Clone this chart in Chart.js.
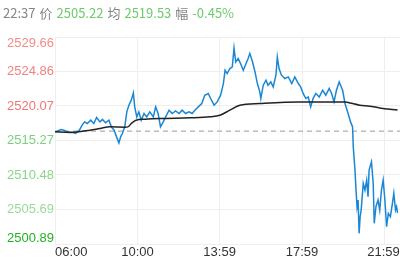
<!DOCTYPE html>
<html>
<head>
<meta charset="utf-8">
<script src="https://cdn.jsdelivr.net/npm/chart.js@4"></script>
<style>
  body { margin: 0; background: #fff; }
  #wrap { position: relative; width: 400px; height: 260px; }
  #head {
    position: absolute; left: 3px; top: 3px;
    font: 13px "Noto Sans CJK SC", "Noto Sans", sans-serif;
    color: #858585; white-space: nowrap;
  }
  #head .g { color: #6ccb6c; }
  #head span { margin-right: 4px; }
</style>
</head>
<body>
<div id="wrap">
  <div id="head"><span>22:37</span><span>价</span><span class="g">2505.22</span><span>均</span><span class="g">2519.53</span><span>幅</span><span class="g">-0.45%</span></div>
  <canvas id="c" width="400" height="260"></canvas>
</div>
<script>
// minutes since 06:00
const priceTimes = [2,17,26,36,50,60,71,79,86,94,104,113,121,131,138,147,157,164,172,179,
  186,191,196,203,209,215,222,228,232,238,244,251,259,267,276,286,293,300,307,315,
  322,332,341,351,361,370,380,390,399,407,417,427,436,446,453,463,472,482,490,495,
  501,509,516,521,526,533,540,548,556,562,567,575,582,589,596,599,606,614,620,628,
  635,643,647,652,659,669,679,689,698,708,715,722,730,737,744,751,759,769,779,788,
  798,805,812,819,827,837,844,853,860,866,868,873,876,879,882,885,888,891,897,902,
  907,911,914,921,926,929,934,940,945,950,955,960,965,970,976,982,986,991,994,997];
const priceValues = [2516.48,2516.81,2516.71,2516.48,2516.40,2516.25,2516.71,2517.41,2517.86,2517.64,
  2518.10,2517.64,2518.47,2517.86,2518.20,2517.73,2518.10,2517.17,2516.71,2515.78,
  2514.95,2515.78,2516.25,2517.17,2519.25,2520.18,2520.88,2521.89,2519.95,2518.56,
  2519.25,2518.10,2519.03,2518.56,2519.25,2518.56,2519.95,2519.03,2517.17,2517.86,
  2518.56,2519.49,2519.03,2519.39,2519.03,2519.49,2519.03,2519.25,2519.03,2519.49,
  2519.95,2520.42,2521.57,2521.81,2521.11,2520.18,2520.64,2521.57,2523.19,2525.04,
  2524.58,2525.28,2525.50,2528.13,2526.19,2526.66,2525.97,2525.04,2525.97,2526.66,
  2527.36,2526.19,2524.80,2523.19,2522.03,2521.11,2522.96,2523.65,2522.96,2523.42,
  2522.72,2524.35,2526.89,2525.28,2524.35,2523.89,2524.11,2523.19,2524.11,2523.19,
  2522.72,2521.81,2521.11,2521.33,2519.95,2521.11,2521.81,2521.33,2522.26,2521.57,
  2522.50,2521.81,2520.64,2522.26,2523.42,2522.26,2520.42,2519.03,2517.86,2517.17,
  2514.39,2511.16,2508.38,2506.07,2507.00,2502.37,2504.68,2505.61,2509.31,2508.38,
  2509.77,2507.46,2511.16,2512.31,2509.31,2503.76,2506.07,2507.00,2505.61,2508.38,
  2509.77,2507.00,2503.29,2505.15,2504.68,2506.54,2507.93,2505.61,2506.07,2505.22];

const avgTimes = [0,44,102,131,160,204,212,224,236,262,305,393,451,480,509,538,596,713,844,858,887,916,945,975,997];
const avgValues = [2516.48,2516.39,2516.71,2516.95,2517.17,2517.13,2517.17,2517.73,2518.10,2518.24,
  2518.34,2518.42,2518.56,2518.79,2519.49,2520.18,2520.42,2520.64,2520.64,2520.50,
  2520.18,2520.05,2519.80,2519.62,2519.53];

const prevClose = 2516.58;
const xMax = 1004;

const yTickLabels = ["2529.66","2524.86","2520.07","2515.27","2510.48","2505.69","2500.89"];
const yTickColors = ["#f58a8a","#f48080","#f27474","#7bd27b","#88d788","#98dc98","#22b022"];
const xTickValues = [0,240,479,719,959];
const xTickLabels = ["06:00","10:00","13:59","17:59","21:59"];

const toXY = (ts, vs) => ts.map((t, i) => ({ x: t, y: vs[i] }));

// axis labels drawn by hand: first/last y labels sit inside the grid, first x label is left aligned
const axisText = {
  id: "axisText",
  afterDraw(chart) {
    const { ctx, scales: { x, y } } = chart;
    ctx.save();
    ctx.font = '13px "Liberation Sans", Arial, sans-serif';
    ctx.textAlign = "right";
    ctx.textBaseline = "middle";
    yTickLabels.forEach((lab, i) => {
      let py = y.getPixelForValue(parseFloat(lab));
      if (i === 0) py += 6;
      if (i === yTickLabels.length - 1) py -= 6;
      ctx.fillStyle = yTickColors[i];
      ctx.fillText(lab, 54, py);
    });
    ctx.fillStyle = "#333";
    xTickValues.forEach((t, i) => {
      ctx.textAlign = i === 0 ? "left" : "center";
      ctx.fillText(xTickLabels[i], x.getPixelForValue(t) + (i === xTickValues.length - 1 ? -1 : 0), 252);
    });
    ctx.restore();
  },
};

new Chart(document.getElementById("c"), {
  type: "line",
  data: {
    datasets: [
      {
        data: toXY(avgTimes, avgValues),
        borderColor: "#222",
        borderWidth: 1.5,
        pointRadius: 0,
        cubicInterpolationMode: "monotone",
      },
      {
        data: toXY(priceTimes, priceValues),
        borderColor: "#1a87d6",
        borderWidth: 1.5,
        pointRadius: 0,
        tension: 0,
      },
      {
        data: [{ x: 0, y: prevClose }, { x: xMax, y: prevClose }],
        borderColor: "#9a9a9a",
        borderWidth: 1,
        borderDash: [5, 4],
        pointRadius: 0,
      },
    ],
  },
  options: {
    responsive: false,
    animation: false,
    layout: { padding: { top: 37, left: 55, right: 0, bottom: 16 } },
    plugins: { legend: { display: false }, tooltip: { enabled: false } },
    scales: {
      x: {
        type: "linear",
        min: 0,
        max: xMax,
        afterBuildTicks: (s) => { s.ticks = xTickValues.map((v) => ({ value: v })); },
        ticks: { display: false },
        grid: { color: "#eeeeee", drawTicks: false },
        border: { display: false },
      },
      y: {
        min: 2500.89,
        max: 2529.66,
        afterBuildTicks: (s) => { s.ticks = yTickLabels.map((l) => ({ value: parseFloat(l) })); },
        ticks: { display: false },
        grid: { color: "#eeeeee", drawTicks: false },
        border: { display: false },
      },
    },
  },
  plugins: [axisText],
});
</script>
</body>
</html>
